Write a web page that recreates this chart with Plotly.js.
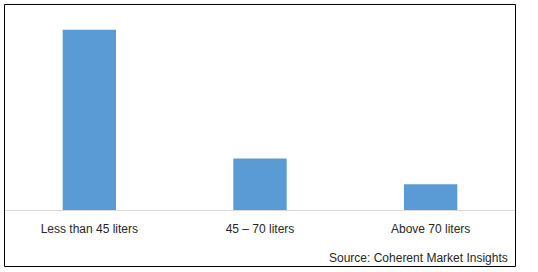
<!DOCTYPE html>
<html>
<head>
<meta charset="utf-8">
<script src="https://cdn.plot.ly/plotly-3.0.1.min.js"></script>
<style>
html,body{margin:0;padding:0;background:#fff;}
#chart{width:538px;height:272px;}
</style>
</head>
<body>
<div id="chart"></div>
<script>
var categories = ["Less than 45 liters", "45 \u2013 70 liters", "Above 70 liters"];
var shareValues = [70, 20, 10];
var sourceText = "Source: Coherent Market Insights";

var trace = {
  type: "bar",
  x: categories,
  y: shareValues,
  marker: {color: "#5B9BD5"},
  width: 0.3125,
  hoverinfo: "x+y"
};

var layout = {
  width: 538,
  height: 272,
  margin: {l: 4, r: 22, t: 4, b: 62},
  paper_bgcolor: "#ffffff",
  plot_bgcolor: "#ffffff",
  showlegend: false,
  font: {family: "Liberation Sans, Arial, sans-serif", color: "#262626", size: 12},
  xaxis: {
    type: "category",
    showline: true,
    linecolor: "#d9d9d9",
    linewidth: 1,
    ticks: "",
    ticklabelstandoff: 8,
    showgrid: false,
    zeroline: false,
    tickfont: {size: 12, color: "#262626"},
    fixedrange: true
  },
  yaxis: {
    range: [0, 80],
    showgrid: false,
    zeroline: false,
    showticklabels: false,
    showline: false,
    ticks: "",
    fixedrange: true
  },
  shapes: [{
    type: "rect",
    xref: "paper", yref: "paper",
    x0: 0.001, x1: 0.999, y0: -0.2743, y1: 0.9976,
    line: {color: "#000000", width: 1},
    fillcolor: "rgba(0,0,0,0)"
  }],
  annotations: [{
    xref: "paper", yref: "paper",
    x: 0.988, y: -0.232,
    xanchor: "right", yanchor: "middle",
    text: sourceText,
    showarrow: false,
    font: {size: 12, color: "#262626"}
  }]
};

Plotly.newPlot("chart", [trace], layout, {displayModeBar: false, staticPlot: true});
</script>
</body>
</html>
